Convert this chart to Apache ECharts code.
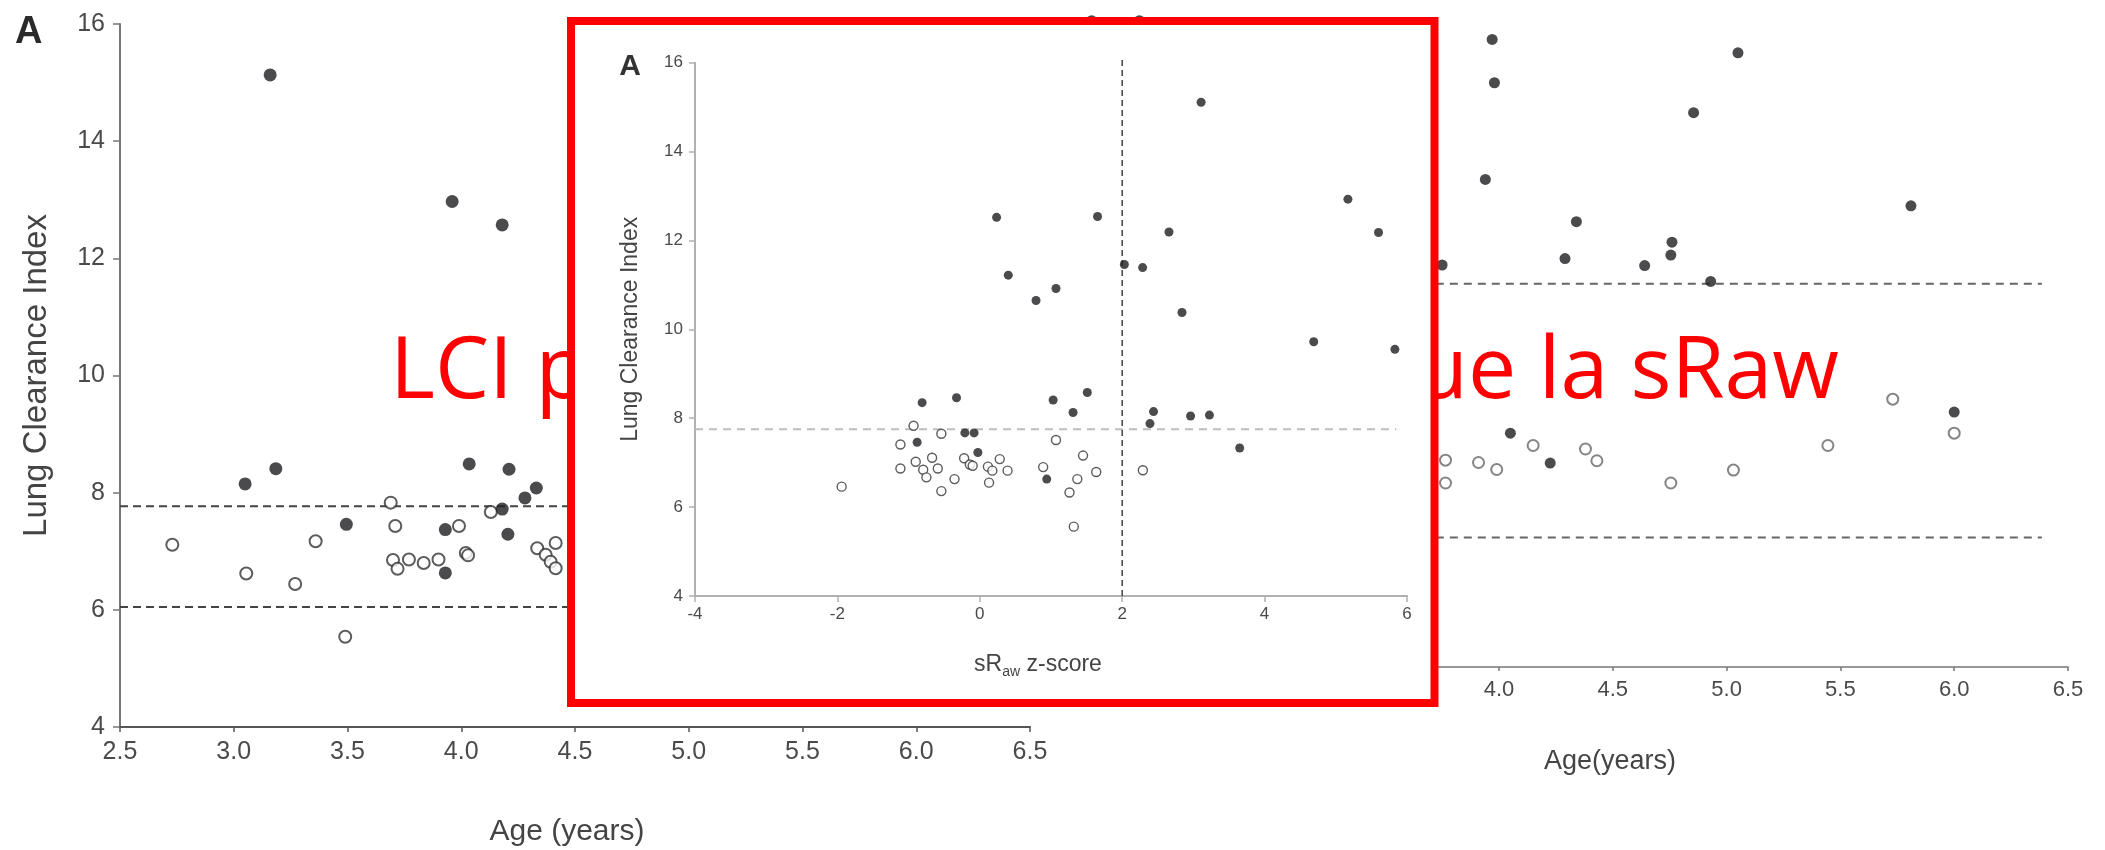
<!DOCTYPE html>
<html lang="fr">
<head>
<meta charset="UTF-8">
<title>LCI vs sRaw</title>
<script src="https://cdn.jsdelivr.net/npm/echarts@6/dist/echarts.min.js"></script>
<style>
  html, body { margin: 0; padding: 0; background: #fff; }
  #main { width: 2105px; height: 850px; }
</style>
</head>
<body>
<div id="main"></div>
<script>
// left figure : LCI vs age (years)
var leftFilled = [[3.16,15.13],[3.96,12.97],[4.18,12.57],[3.05,8.15],[3.185,8.41],[3.495,7.46],
  [3.93,7.37],[3.93,6.63],[4.035,8.49],[4.18,7.72],[4.21,8.40],[4.205,7.29],[4.28,7.91],[4.33,8.08]];
var leftOpen = [[2.73,7.11],[3.055,6.62],[3.27,6.44],[3.36,7.17],[3.49,5.54],[3.69,7.83],[3.71,7.43],
  [3.70,6.85],[3.72,6.70],[3.77,6.86],[3.835,6.80],[3.90,6.86],[3.99,7.43],[4.02,6.97],[4.03,6.93],
  [4.13,7.67],[4.334,7.05],[4.371,6.94],[4.415,7.14],[4.393,6.82],[4.415,6.71]];
var leftLimits = [7.77, 6.05];

// inset : LCI vs sRaw z-score
var insetFilled = [[0.236,12.52],[0.40,11.22],[3.108,15.11],[1.654,12.54],[5.17,12.93],[2.657,12.19],
  [5.60,12.18],[2.03,11.46],[2.287,11.39],[0.79,10.65],[1.07,10.92],[2.84,10.38],[4.69,9.72],[5.83,9.55],
  [-0.81,8.35],[-0.327,8.46],[-0.21,7.67],[-0.08,7.67],[-0.88,7.46],[-0.027,7.23],[1.03,8.41],[1.51,8.58],
  [1.31,8.13],[2.44,8.15],[2.39,7.88],[2.96,8.05],[3.225,8.07],[3.65,7.33],[0.94,6.63]];
var insetOpen = [[-1.94,6.46],[-1.115,7.41],[-1.115,6.87],[-0.93,7.83],[-0.90,7.02],[-0.795,6.84],
  [-0.75,6.67],[-0.67,7.11],[-0.59,6.87],[-0.54,7.65],[-0.54,6.36],[-0.355,6.63],[-0.22,7.10],[-0.14,6.96],
  [-0.10,6.93],[0.114,6.91],[0.13,6.55],[0.176,6.82],[0.28,7.08],[0.39,6.82],[0.89,6.90],[1.07,7.51],
  [1.26,6.33],[1.32,5.56],[1.37,6.63],[1.45,7.16],[1.635,6.79],[2.29,6.83]];
var insetLimitH = [[-4, 7.75], [5.85, 7.75]];
var insetLimitV = [[2, 4], [2, 16.15]];

// right figure : LCI vs age(years)
var rightFilled = [[2.21,15.03],[2.42,15.03],[3.97,14.71],[3.98,13.97],[5.05,14.48],[4.855,13.46],
  [3.94,12.32],[5.81,11.87],[4.34,11.6],[4.29,10.97],[4.64,10.85],[4.76,11.25],[4.755,11.03],[4.93,10.58],
  [6.0,8.35],[4.05,7.99],[4.225,7.48],[3.75,10.86]];
var rightOpen = [[5.73,8.57],[6.0,7.99],[5.445,7.78],[5.03,7.36],[4.755,7.14],[4.38,7.72],[4.43,7.52],
  [4.15,7.78],[3.91,7.49],[3.99,7.37],[3.765,7.53],[3.765,7.14]];
var rightLimits = [10.54, 6.21];
var rightLineEnd = [2.0, 6.385];

// slide caption, partly hidden behind the inset
var captionLeft = 'LCI plus sensible';
var captionRight = 'que la sRaw';

var FONT = '"Liberation Sans", Arial, sans-serif';

var myChart = echarts.init(document.getElementById('main'));

function dots(data, gi, size, filled, edge, zl) {
    return {
        type: 'scatter', xAxisIndex: gi, yAxisIndex: gi, zlevel: zl, z: 10,
        data: data, symbol: 'circle', symbolSize: size, silent: true, clip: false,
        itemStyle: filled ? {color: '#1e1e22'} : {color: '#fff', borderColor: edge, borderWidth: size > 10 ? 2 : 1.4}
    };
}

function dash(data, gi, color, width, type, zl) {
    return {
        type: 'line', xAxisIndex: gi, yAxisIndex: gi, zlevel: zl, z: 6, clip: false,
        data: data, symbol: 'none', silent: true,
        lineStyle: {color: color, width: width, type: type}
    };
}

function axisStyle(color, width, fs, margin, tickLen, fmt) {
    return {
        axisLine: {show: true, onZero: false, lineStyle: {color: color, width: width}},
        axisTick: {show: true, length: tickLen, lineStyle: {color: color, width: 1.5}},
        axisLabel: {color: '#4a4a4a', fontFamily: FONT, fontSize: fs, margin: margin, formatter: fmt},
        splitLine: {show: false}
    };
}

var series = [];
leftLimits.forEach(function (v) {
    series.push(dash([[2.5, v], [6.4, v]], 0, '#444', 2, [8, 5], 0));
});
series.push(dots(leftOpen, 0, 12, false, '#333', 0));
series.push(dots(leftFilled, 0, 13, true, null, 0));

rightLimits.forEach(function (v) {
    series.push(dash([[rightLineEnd[0], v], [rightLineEnd[1], v]], 2, '#666', 2, [8, 6], 0));
});
series.push(dots(rightOpen, 2, 11, false, '#666', 0));
series.push(dots(rightFilled, 2, 11, true, null, 0));

series.push(dash(insetLimitH, 1, '#bdbdbd', 2, [8, 6], 1));
series.push(dash(insetLimitV, 1, '#444', 1.5, [6, 4], 1));
series.push(dots(insetOpen, 1, 9, false, '#333', 1));
series.push(dots(insetFilled, 1, 9, true, null, 1));

var fmt1 = function (v) { return v.toFixed(1); };

var option = {
    animation: false,
    backgroundColor: '#fff',
    grid: [
        {left: 120, top: 24, width: 910, height: 703},
        {left: 695, top: 62.7, width: 712, height: 533.3, zlevel: 1},
        {left: 1043.8, top: 0, width: 1024.2, height: 667}
    ],
    xAxis: [
        Object.assign({type: 'value', gridIndex: 0, min: 2.5, max: 6.5, interval: 0.5},
            axisStyle('#555', 2, 25, 13, 5, fmt1)),
        Object.assign({type: 'value', gridIndex: 1, min: -4, max: 6, interval: 2, zlevel: 1, z: 5},
            axisStyle('#b0b0b0', 2, 17, 10, 6)),
        Object.assign({type: 'value', gridIndex: 2, min: 2.0, max: 6.5, interval: 0.5},
            axisStyle('#777', 1.5, 22, 12, 4, fmt1))
    ],
    yAxis: [
        Object.assign({type: 'value', gridIndex: 0, min: 4, max: 16, interval: 2,
            name: 'Lung Clearance Index', nameLocation: 'middle', nameGap: 67, nameRotate: 90,
            nameTextStyle: {color: '#444', fontFamily: FONT, fontSize: 33}},
            axisStyle('#777', 2, 25, 15, 7)),
        Object.assign({type: 'value', gridIndex: 1, min: 4, max: 16, interval: 2, zlevel: 1, z: 5,
            name: 'Lung Clearance Index', nameLocation: 'middle', nameGap: 53, nameRotate: 90,
            nameTextStyle: {color: '#444', fontFamily: FONT, fontSize: 23}},
            axisStyle('#b0b0b0', 2, 17, 12, 6)),
        {type: 'value', gridIndex: 2, min: 4, max: 15.382, show: false}
    ],
    graphic: [
        {type: 'text', zlevel: 0, z: 1, left: 15, top: 14,
            style: {text: 'A', font: 'bold 38px ' + FONT, fill: '#2a2a2a'}},
        {type: 'text', zlevel: 0, z: 1, x: 567, y: 832,
            style: {text: 'Age (years)', font: '30px ' + FONT, fill: '#444', align: 'center', verticalAlign: 'middle'}},
        {type: 'text', zlevel: 0, z: 1, x: 1610, y: 762,
            style: {text: 'Age(years)', font: '27px ' + FONT, fill: '#444', align: 'center', verticalAlign: 'middle'}},
        {type: 'text', zlevel: 0, z: 50, x: 390, y: 373,
            style: {text: captionLeft, font: '86px "Open Sans"', fill: '#ff0000',
                align: 'left', verticalAlign: 'middle'}},
        {type: 'text', zlevel: 0, z: 50, x: 1839, y: 373,
            style: {text: captionRight, font: '86px "Open Sans"', fill: '#ff0000',
                align: 'right', verticalAlign: 'middle'}},
        {type: 'rect', zlevel: 1, z: 0, shape: {x: 571, y: 21, width: 863.5, height: 682},
            style: {fill: '#fff', stroke: '#ff0000', lineWidth: 8}},
        {type: 'text', zlevel: 1, z: 8, x: 630, y: 67,
            style: {text: 'A', font: 'bold 30px ' + FONT, fill: '#333', align: 'center', verticalAlign: 'middle'}},
        {type: 'text', zlevel: 1, z: 8, x: 1038, y: 665,
            style: {text: '{a|sR}{b|aw}{a| z-score}', align: 'center', verticalAlign: 'middle',
                rich: {
                    a: {fontFamily: FONT, fontSize: 23, lineHeight: 28, fill: '#444', color: '#444'},
                    b: {fontFamily: FONT, fontSize: 14, lineHeight: 16, verticalAlign: 'bottom', fill: '#444', color: '#444'}
                }}}
    ],
    series: series
};

myChart.setOption(option);
</script>
</body>
</html>
